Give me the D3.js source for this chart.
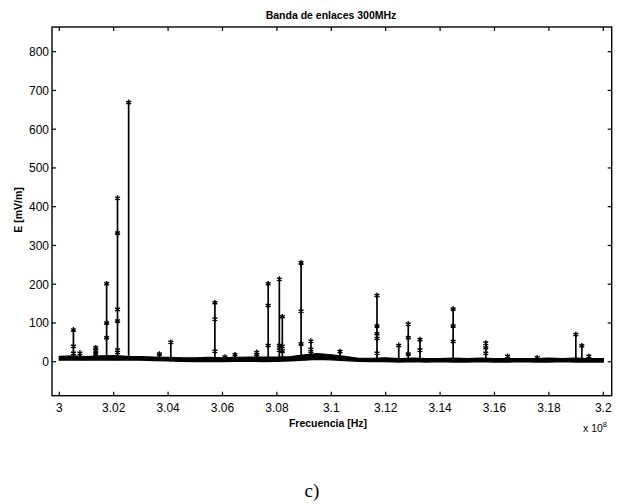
<!DOCTYPE html>
<html>
<head>
<meta charset="utf-8">
<script src="https://cdn.jsdelivr.net/npm/d3@7"></script>
<style>
  html, body { margin: 0; padding: 0; background: #fff; }
  svg { display: block; }
  text { font-family: "Liberation Sans", Arial, sans-serif; fill: #000; }
</style>
</head>
<body>
<svg id="chart" width="624" height="504"></svg>
<script>
// ---- data (frequency in units of 1e8 Hz, field in mV/m) ----
const title = "Banda de enlaces 300MHz";
const xLabel = "Frecuencia [Hz]";
const yLabel = "E [mV/m]";
const caption = "c)";

const xTicks = [3.00, 3.02, 3.04, 3.06, 3.08, 3.10, 3.12, 3.14, 3.16, 3.18, 3.20];
const xTickLabels = ["3", "3.02", "3.04", "3.06", "3.08", "3.1", "3.12", "3.14", "3.16", "3.18", "3.2"];
const yTicks = [0, 100, 200, 300, 400, 500, 600, 700, 800];

// noise floor envelope (low / high) sampled along the band
const floorFreq = [3.000, 3.005, 3.010, 3.015, 3.020, 3.025, 3.030, 3.035, 3.040, 3.045,
                   3.050, 3.055, 3.060, 3.065, 3.070, 3.075, 3.080, 3.085, 3.090, 3.095,
                   3.100, 3.105, 3.110, 3.115, 3.120, 3.125, 3.130, 3.135, 3.140, 3.145,
                   3.150, 3.155, 3.160, 3.165, 3.170, 3.175, 3.180, 3.185, 3.190, 3.195, 3.200];
const floorLow  = [4, 5, 4, 5, 4, 5, 4, 3, 2, 1,
                   0, 1, 0, 1, 1, 0, 1, 2, 4, 6,
                   5, 3, 1, 0, 0, -1, 0, -1, 0, -1,
                   -1, 0, -1, -1, 0, -1, -1, 0, -1, -1, -1];
const floorHigh = [14, 15, 13, 15, 16, 14, 13, 12, 11, 10,
                   10, 11, 10, 11, 12, 12, 12, 13, 18, 21,
                   18, 14, 9, 9, 10, 8, 9, 8, 8, 9,
                   8, 9, 8, 8, 8, 8, 9, 8, 9, 8, 8];

// emissions: frequency, peak value, and lower samples on the same line
const peakFreq  = [3.0052, 3.0076, 3.0134, 3.0174, 3.0214, 3.0255, 3.0368, 3.0410, 3.0572, 3.0609,
                   3.0646, 3.0726, 3.0768, 3.0809, 3.0820, 3.0889, 3.0925, 3.1032, 3.1168, 3.1248,
                   3.1283, 3.1326, 3.1448, 3.1568, 3.1648, 3.1757, 3.1899, 3.1921, 3.1947];
const peakValue = [82, 22, 36, 201, 422, 669, 20, 50, 152, 12,
                   18, 24, 201, 213, 116, 255, 53, 26, 171, 42,
                   97, 57, 136, 48, 14, 10, 70, 41, 14];
const peakLower = [[40, 22], [], [28, 20], [100, 62], [332, 135, 105, 30, 24], [], [], [], [110, 27], [],
                   [], [18], [145, 42], [42, 30], [40, 28], [130, 46], [32, 22], [], [92, 72, 60, 22], [],
                   [62, 20], [30], [92, 52], [36, 22], [], [], [], [], []];

// ---- layout ----
const svg = d3.select("#chart");
const plotL = 52, plotR = 611.7, plotT = 27, plotB = 395.7;

const x = d3.scaleLinear().domain([2.99732, 3.20309]).range([plotL, plotR]);
const y = d3.scaleLinear().domain([-87.7, 863.7]).range([plotB, plotT]);

const g = svg.append("g");

// noise floor band
const band = d3.area()
  .x((d, i) => x(floorFreq[i]))
  .y0((d, i) => y(floorLow[i]))
  .y1((d, i) => y(floorHigh[i]))
  .curve(d3.curveLinear);
g.append("path")
  .datum(floorFreq)
  .attr("d", band)
  .attr("fill", "#000")
  .attr("stroke", "#000")
  .attr("stroke-width", 1.2);

// emission lines
const baseFor = f => {
  const i = d3.bisectLeft(floorFreq, f);
  const j = Math.min(i, floorFreq.length - 1);
  return floorLow[j];
};
g.selectAll("line.peak")
  .data(peakFreq)
  .join("line")
  .attr("class", "peak")
  .attr("x1", (d) => x(d))
  .attr("x2", (d) => x(d))
  .attr("y1", (d) => y(baseFor(d)))
  .attr("y2", (d, i) => y(peakValue[i]))
  .attr("stroke", "#000")
  .attr("stroke-width", 1.7);

// markers
const markerData = [];
peakFreq.forEach((f, i) => {
  markerData.push({ f, v: peakValue[i] });
  peakLower[i].forEach(v => markerData.push({ f, v }));
});
const sym = d3.symbol().type(d3.symbolAsterisk).size(22);
g.selectAll("path.mk")
  .data(markerData)
  .join("path")
  .attr("class", "mk")
  .attr("d", sym)
  .attr("transform", d => `translate(${x(d.f)},${y(d.v)})`)
  .attr("fill", "none")
  .attr("stroke", "#000")
  .attr("stroke-width", 1.4);

// ---- axes box & ticks (ticks pointing inward on all four sides) ----
const tickLen = 4;
const axes = svg.append("g").attr("stroke", "#000");
axes.append("rect")
  .attr("x", plotL).attr("y", plotT)
  .attr("width", plotR - plotL).attr("height", plotB - plotT)
  .attr("fill", "none").attr("stroke-width", 1.4);

xTicks.forEach(t => {
  axes.append("line").attr("x1", x(t)).attr("x2", x(t))
    .attr("y1", plotB).attr("y2", plotB - tickLen).attr("stroke-width", 1.2);
  axes.append("line").attr("x1", x(t)).attr("x2", x(t))
    .attr("y1", plotT).attr("y2", plotT + tickLen).attr("stroke-width", 1.2);
});
yTicks.forEach(t => {
  axes.append("line").attr("x1", plotL).attr("x2", plotL + tickLen)
    .attr("y1", y(t)).attr("y2", y(t)).attr("stroke-width", 1.2);
  axes.append("line").attr("x1", plotR).attr("x2", plotR - tickLen)
    .attr("y1", y(t)).attr("y2", y(t)).attr("stroke-width", 1.2);
});

// tick labels
svg.append("g").selectAll("text")
  .data(xTicks)
  .join("text")
  .attr("x", d => x(d))
  .attr("y", plotB + 16)
  .attr("text-anchor", "middle")
  .attr("font-size", 12)
  .text((d, i) => xTickLabels[i]);

svg.append("g").selectAll("text")
  .data(yTicks)
  .join("text")
  .attr("x", plotL - 3)
  .attr("y", d => y(d) + 4.5)
  .attr("text-anchor", "end")
  .attr("font-size", 12)
  .text(d => d);

// exponent
const ex = svg.append("text")
  .attr("x", 583).attr("y", 432)
  .attr("font-size", 10.5);
ex.append("tspan").text("x 10");
ex.append("tspan").attr("dy", -5).attr("font-size", 7.5).text("8");

// titles
svg.append("text")
  .attr("x", 331).attr("y", 19)
  .attr("text-anchor", "middle")
  .attr("font-size", 10.5)
  .attr("font-weight", "bold")
  .text(title);

svg.append("text")
  .attr("x", 328).attr("y", 427)
  .attr("text-anchor", "middle")
  .attr("font-size", 10.5)
  .attr("font-weight", "bold")
  .text(xLabel);

svg.append("text")
  .attr("transform", `translate(22,210) rotate(-90)`)
  .attr("text-anchor", "middle")
  .attr("font-size", 10.5)
  .attr("font-weight", "bold")
  .text(yLabel);

svg.append("text")
  .attr("x", 312).attr("y", 497)
  .attr("text-anchor", "middle")
  .attr("style", "font-family: 'Liberation Serif', serif")
  .attr("font-size", 19)
  .text(caption);
</script>
</body>
</html>
